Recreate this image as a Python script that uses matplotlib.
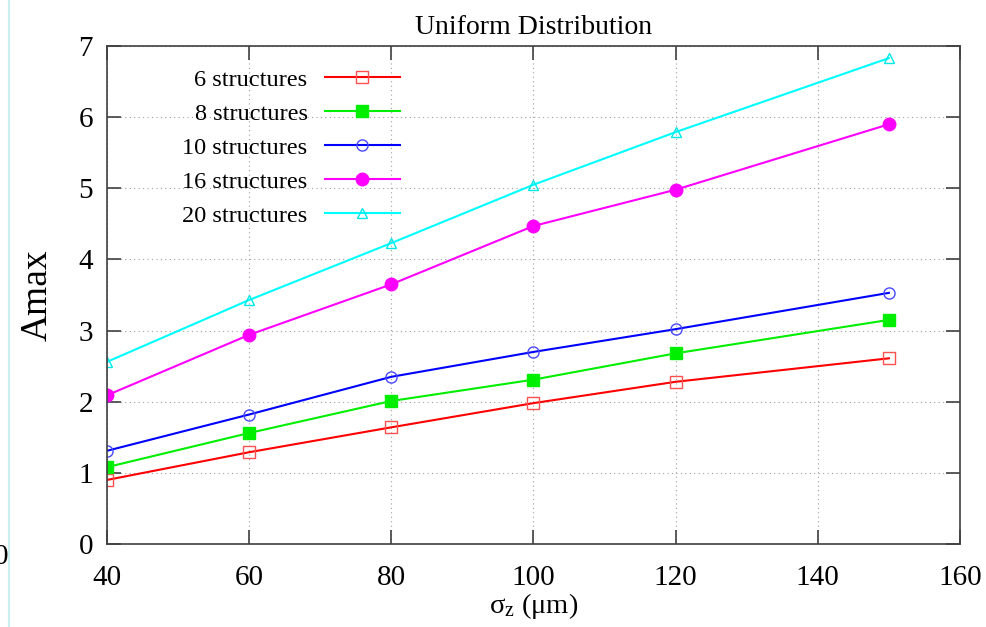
import matplotlib
matplotlib.use('Agg')
import matplotlib.pyplot as plt
from matplotlib.lines import Line2D

plt.rcParams['font.family'] = ['Liberation Serif', 'DejaVu Serif']
plt.rcParams['mathtext.fontset'] = 'stix'

sigma_z = [40, 60, 80, 100, 120, 150]
amax_6 = [0.90, 1.29, 1.64, 1.98, 2.28, 2.61]
amax_8 = [1.08, 1.56, 2.01, 2.31, 2.68, 3.15]
amax_10 = [1.31, 1.82, 2.35, 2.70, 3.02, 3.53]
amax_16 = [2.09, 2.94, 3.65, 4.47, 4.98, 5.90]
amax_20 = [2.56, 3.43, 4.23, 5.05, 5.79, 6.83]

fig = plt.figure(figsize=(9.86, 6.27), dpi=100)
ax = fig.add_axes([0.1085, 0.1324, 0.8651, 0.7942])

ax.plot(sigma_z, amax_6, color='#ff0000', lw=1.5, marker='s', ms=8,
        mfc='none', mec='#ff5050', mew=1.0, label='6 structures')
ax.plot(sigma_z, amax_8, color='#00ee00', lw=1.5, marker='s', ms=8,
        mfc='#00ee00', mec='#00ee00', label='8 structures')
ax.plot(sigma_z, amax_10, color='#0000ff', lw=1.5, marker='o', ms=8,
        mfc='none', mec='#4848ff', mew=1.0, label='10 structures')
ax.plot(sigma_z, amax_16, color='#ff00ff', lw=1.5, marker='o', ms=9,
        mfc='#ff00ff', mec='#ff00ff', label='16 structures')
ax.plot(sigma_z, amax_20, color='#00ffff', lw=1.5, marker='^', ms=7,
        mfc='none', mec='#00e8e8', mew=1.0, label='20 structures')

ax.set_xlim(40, 160)
ax.set_ylim(0, 7)
ax.set_xticks([40, 60, 80, 100, 120, 140, 160])
ax.set_yticks(range(0, 8))
ax.tick_params(direction='in', length=10, width=1.2, top=True, right=True,
               labelsize=21, color='#404040')
ax.tick_params(axis='x', pad=15)
ax.tick_params(axis='y', pad=10)
ax.grid(True, linestyle=(0, (1, 3)), color='#a0a0a0', lw=0.8)
for s in ax.spines.values():
    s.set_color('#404040')
    s.set_linewidth(1.2)

ax.set_title('Uniform Distribution', fontsize=20, pad=9)
ax.set_ylabel('Amax', fontsize=27, labelpad=17)
ax.set_xlabel(r'$\mathregular{\sigma_z}$ ($\mathregular{\mu}$m)', fontsize=20.5, labelpad=0)

leg = ax.legend(loc='upper right', bbox_to_anchor=(0.3435, 0.954), frameon=False,
                markerfirst=False, fontsize=17.5, handlelength=3.1,
                labelspacing=0.49, handletextpad=0.7, borderaxespad=0,
                borderpad=0)
leg._legend_box.align = 'right'

fig.add_artist(Line2D([0.009, 0.009], [0, 1], transform=fig.transFigure,
                      color='#c8f0f0', lw=1.5))
fig.text(-0.006, 0.112, '0', fontsize=21, ha='left', va='center')

fig.savefig('out.png', dpi=100)
